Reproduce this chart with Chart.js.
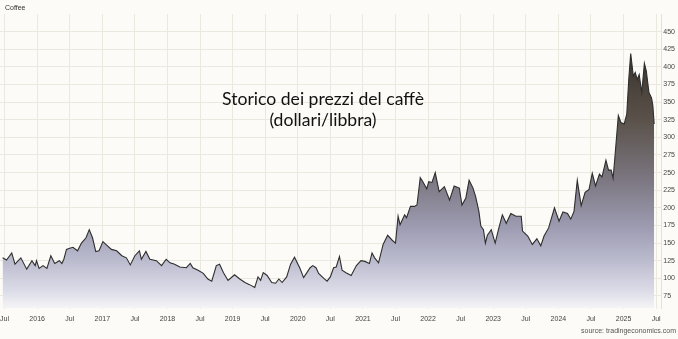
<!DOCTYPE html>
<html>
<head>
<meta charset="utf-8">
<script src="https://cdn.jsdelivr.net/npm/chart.js@4.4.1/dist/chart.umd.min.js"></script>
<style>
  html, body { margin: 0; padding: 0; background: #fcfbf7; }
  #wrap { position: relative; width: 678px; height: 339px; }
  #label { position: absolute; left: 5px; top: 4px; font: 7px "Liberation Sans", Arial, sans-serif; color: #333; }
  #title { position: absolute; left: 173px; width: 300px; top: 88px; text-align: center;
           font: 17.6px Lato, "Open Sans", sans-serif; line-height: 21px; color: #111; }
  #source { position: absolute; right: 2px; top: 327px; font: 7px "Liberation Sans", Arial, sans-serif; color: #555; }
</style>
</head>
<body>
<div id="wrap">
  <canvas id="myChart"></canvas>
  <div id="label">Coffee</div>
  <div id="title">Storico dei prezzi del caffè<br>(dollari/libbra)</div>
  <div id="source">source: tradingeconomics.com</div>
</div>
<script>
'use strict';
// dates as decimal years
let dates = [2015.47,2015.53,2015.61,2015.66,2015.75,2015.84,2015.92,2015.97,2015.99,2016.03,2016.09,2016.15,2016.21,2016.27,2016.34,2016.38,2016.41,2016.45,2016.50,2016.55,2016.62,2016.68,2016.75,2016.80,2016.85,2016.90,2016.95,2017.01,2017.08,2017.14,2017.22,2017.30,2017.37,2017.43,2017.50,2017.57,2017.60,2017.67,2017.73,2017.83,2017.91,2017.98,2018.04,2018.11,2018.19,2018.29,2018.35,2018.39,2018.47,2018.55,2018.62,2018.68,2018.75,2018.80,2018.86,2018.93,2019.03,2019.11,2019.19,2019.26,2019.34,2019.39,2019.43,2019.47,2019.53,2019.60,2019.66,2019.71,2019.76,2019.83,2019.89,2019.95,2020.03,2020.09,2020.14,2020.19,2020.23,2020.28,2020.32,2020.40,2020.45,2020.50,2020.55,2020.59,2020.64,2020.68,2020.74,2020.82,2020.90,2020.97,2021.03,2021.10,2021.14,2021.18,2021.24,2021.31,2021.38,2021.45,2021.50,2021.54,2021.57,2021.64,2021.67,2021.73,2021.79,2021.83,2021.88,2021.92,2021.98,2022.01,2022.06,2022.11,2022.17,2022.25,2022.33,2022.40,2022.48,2022.52,2022.58,2022.63,2022.69,2022.73,2022.78,2022.81,2022.85,2022.88,2022.91,2022.97,2023.03,2023.08,2023.14,2023.20,2023.27,2023.35,2023.43,2023.45,2023.53,2023.60,2023.67,2023.73,2023.78,2023.85,2023.94,2024.01,2024.07,2024.14,2024.19,2024.24,2024.29,2024.35,2024.41,2024.47,2024.52,2024.57,2024.63,2024.67,2024.73,2024.77,2024.81,2024.84,2024.87,2024.92,2024.96,2025.01,2025.05,2025.08,2025.11,2025.15,2025.18,2025.21,2025.24,2025.28,2025.32,2025.35,2025.39,2025.43,2025.45,2025.47];
let prices = [129,126,136,120,129,113,125,118,125,114,118,114,132,121,125,121,127,141,142.5,144,139,150,157.5,169,157.5,138,139,152,146,141,139,132,129,119,132,139,127,138,127,125,118,127,122,120,116,115,121,115,111.5,107,99,96,118,120,108,97,105,99,94,91,87,102,97,108,104,94,93,99,94,102,120,130,115,101,108,115,118,115,107,100,96,102,115,116,131,111.5,108,104,118,125,124,121,136,129,122,148,161,154,150,188,176,190,186,202,202,204,243,237,227,237,236,250,223,230,211,231,228,204,214,239,228,216,195,174,169,150,161,169,150,169,190,178,192,188,188,167,160,148,156,146,160,171.5,200,181,194,192,184,195,239,203,222,226,249,231,248,244,267.5,253.5,253.5,242,274.5,331,321,319,333,382,419,387,392,382,389,363.5,405,394,363.5,356,345,319];
let yTicks = [75,100,125,150,175,200,225,250,275,300,325,350,375,400,425,450];
let xTicks = [2015.5,2016,2016.5,2017,2017.5,2018,2018.5,2019,2019.5,2020,2020.5,2021,2021.5,2022,2022.5,2023,2023.5,2024,2024.5,2025,2025.5];

let points = [];
for (let i = 0; i < dates.length; i++) {
    points.push({x: dates[i], y: prices[i]});
}

function fillGradient(context) {
    let chart = context.chart;
    let area = chart.chartArea;
    if (!area) return '#aaa';
    let g = chart.ctx.createLinearGradient(0, area.top, 0, area.bottom);
    g.addColorStop(0.0, '#342d27');
    g.addColorStop(0.15, '#3c352f');
    g.addColorStop(0.36, '#5a524a');
    g.addColorStop(0.56, '#7b7680');
    g.addColorStop(0.73, '#9e9db3');
    g.addColorStop(0.84, '#bcbccf');
    g.addColorStop(0.94, '#dcdce8');
    g.addColorStop(1.0, '#f5f5f7');
    return g;
}

Chart.defaults.font.family = '"Liberation Sans", Arial, sans-serif';
Chart.defaults.font.size = 7;
Chart.defaults.color = '#444';

let ctx = document.getElementById('myChart').getContext('2d');
let myChart = new Chart(ctx, {
    type: 'line',
    data: {
        datasets: [{
            label: 'Coffee',
            data: points,
            borderColor: '#2e2e2e',
            borderWidth: 1.1,
            backgroundColor: fillGradient,
            fill: 'start',
            pointRadius: 0,
            tension: 0
        }]
    },
    options: {
        responsive: true,
        maintainAspectRatio: false,
        animation: false,
        layout: { padding: { left: 0, right: 1, top: 14, bottom: 10 } },
        plugins: { legend: { display: false }, tooltip: { enabled: false } },
        scales: {
            x: {
                type: 'linear',
                min: 2015.43,
                max: 2025.58,
                afterBuildTicks: function (axis) {
                    axis.ticks = xTicks.map(v => ({value: v}));
                },
                afterFit: function (axis) {
                    // let the first "Jul" hang over the left edge like the original
                    axis.paddingLeft = 0;
                    axis.paddingRight = 0;
                },
                ticks: {
                    maxRotation: 0,
                    autoSkip: false,
                    padding: 6,
                    callback: function (value) {
                        return (value % 1 === 0.5) ? 'Jul' : String(value);
                    }
                },
                grid: { color: '#ebe8df', drawTicks: false },
                border: { display: false }
            },
            y: {
                position: 'right',
                min: 57,
                max: 475,
                afterBuildTicks: function (axis) {
                    axis.ticks = yTicks.map(v => ({value: v}));
                },
                ticks: { padding: 2 },
                grid: { color: '#ebe8df', drawTicks: false },
                border: { color: '#e4e1d8' }
            }
        }
    }
});
</script>
</body>
</html>
